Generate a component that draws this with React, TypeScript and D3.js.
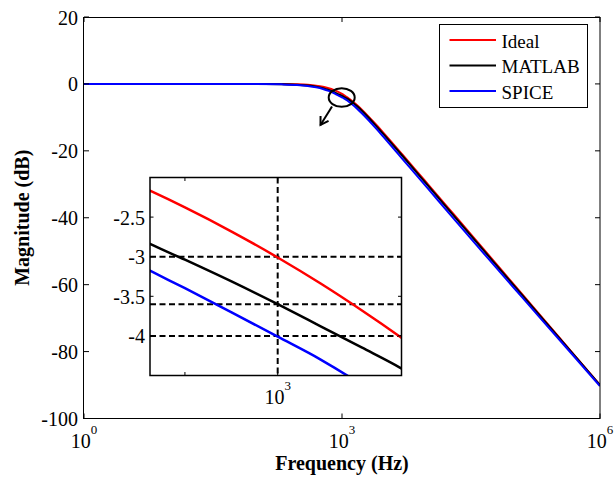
import React from 'react';
import * as d3 from 'd3';

const freqs = [1, 10, 100, 200, 300, 400, 500, 600, 700, 800, 865, 900, 950, 1000, 1050, 1100, 1150, 1200, 1300, 1500, 1700, 2000, 2500, 3000, 4000, 5000, 7000, 1e4, 2e4, 5e4, 1e5, 2e5, 5e5, 1e6];
const ideal = [0, 0, -0.004, -0.035, -0.116, -0.269, -0.512, -0.849, -1.281, -1.796, -2.167, -2.378, -2.689, -3.01, -3.339, -3.676, -4.016, -4.358, -5.047, -6.41, -7.718, -9.542, -12.208, -14.472, -18.129, -21.004, -25.366, -30.004, -39.031, -50.97, -60.0, -69.03, -80.97, -90.0];
const matlab = [0, 0, -0.024, -0.085, -0.216, -0.469, -0.812, -1.249, -1.781, -2.396, -2.837, -3.038, -3.319, -3.6, -3.879, -4.146, -4.406, -4.698, -5.347, -6.71, -8.018, -9.89, -12.6, -14.87, -18.53, -21.4, -25.77, -30.4, -39.43, -51.32, -60.3, -69.23, -81.07, -90.0];
const spice = [0, 0, -0.034, -0.135, -0.316, -0.619, -1.012, -1.499, -2.081, -2.716, -3.177, -3.398, -3.709, -4.01, -4.299, -4.616, -4.956, -5.308, -6.017, -7.41, -8.768, -10.642, -13.358, -15.672, -19.379, -22.304, -26.666, -31.304, -40.331, -52.17, -61.0, -69.83, -81.47, -90.3];

const seriesNames = ['Ideal', 'MATLAB', 'SPICE'];
const seriesColors = ['#ff0000', '#000000', '#0000ff'];
const seriesData = [ideal, matlab, spice];

const yTicks = [20, 0, -20, -40, -60, -80, -100];
const xTicks = [1, 1e3, 1e6];
const xTickExps = ['0', '3', '6'];

const insetYTicks = [-2.5, -3, -3.5, -4];
const insetXTicks = [900, 1000];
const insetXLabels = [1000];
const insetXLabelExps = ['3'];
const insetHLines = [-3, -3.6, -4];
const insetVLines = [1000];

const FONT = "'Liberation Serif', 'Times New Roman', serif";

export default function App() {
  const W = 616, H = 477;
  const L = 84, R = 600, T = 17, B = 418.5;
  const x = d3.scaleLog().domain([1, 1e6]).range([L, R]);
  const y = d3.scaleLinear().domain([-100, 20]).range([B, T]);

  const iL = 150, iR = 401.5, iT = 177.5, iB = 375.5;
  const ix = d3.scaleLog().domain([865, 1151]).range([iL, iR]);
  const iy = d3.scaleLinear().domain([-4.5, -2]).range([iB, iT]);

  const mainLine = d3.line<number>()
    .x((_, i) => x(freqs[i]))
    .y((d) => y(d))
    .curve(d3.curveMonotoneX);
  const insetLine = d3.line<number>()
    .x((_, i) => ix(freqs[i]))
    .y((d) => iy(d))
    .curve(d3.curveMonotoneX);

  // arrow geometry
  const tip = [320.5, 125];
  const start = [332, 106.5];
  const ang = Math.atan2(tip[1] - start[1], tip[0] - start[0]);
  const wl = 9, wa = 0.55;
  const w1 = [tip[0] - wl * Math.cos(ang - wa), tip[1] - wl * Math.sin(ang - wa)];
  const w2 = [tip[0] - wl * Math.cos(ang + wa), tip[1] - wl * Math.sin(ang + wa)];

  const legendRows = [40, 65.5, 91];

  return (
    <svg width={W} height={H} style={{ position: 'absolute', left: 0, top: 0, background: '#fff' }} fontFamily={FONT}>
      <defs>
        <clipPath id="mainClip"><rect x={L} y={T} width={R - L} height={B - T} /></clipPath>
        <clipPath id="insetClip"><rect x={iL} y={iT} width={iR - iL} height={iB - iT} /></clipPath>
      </defs>
      <rect x={0} y={0} width={W} height={H} fill="#fff" />

      {/* main curves */}
      <g clipPath="url(#mainClip)">
        {[0, 1, 2].map((k) => (
          <path key={k} d={mainLine(seriesData[k]) || ''} fill="none" stroke={seriesColors[k]} strokeWidth={2} />
        ))}
      </g>

      {/* main frame and ticks */}
      <rect x={L - 0.5} y={T + 0.5} width={R - L + 0.5} height={B - T - 0.5} fill="none" stroke="#000" strokeWidth={1} />
      {yTicks.map((t) => (
        <g key={'y' + t}>
          <line x1={L} x2={L + 5} y1={y(t)} y2={y(t)} stroke="#000" />
          <line x1={R} x2={R - 5} y1={y(t)} y2={y(t)} stroke="#000" />
          <text x={L - 6} y={y(t) + 7.5} fontSize={20} textAnchor="end">{t}</text>
        </g>
      ))}
      {xTicks.map((t, i) => (
        <g key={'x' + t}>
          <line x1={x(t)} x2={x(t)} y1={B} y2={B - 5} stroke="#000" />
          <line x1={x(t)} x2={x(t)} y1={T} y2={T + 5} stroke="#000" />
          <text x={x(t)} y={B + 29.5} fontSize={20} textAnchor="middle">
            10<tspan fontSize={13} dy={-14}>{xTickExps[i]}</tspan>
          </text>
        </g>
      ))}

      <text x={342} y={470} fontSize={20} fontWeight="bold" textAnchor="middle">Frequency (Hz)</text>
      <text transform={`translate(29,${(T + B) / 2}) rotate(-90)`} fontSize={20} fontWeight="bold" textAnchor="middle">Magnitude (dB)</text>

      {/* ellipse and arrow */}
      <ellipse cx={341.7} cy={97.5} rx={13} ry={9.3} fill="none" stroke="#000" strokeWidth={2} />
      <line x1={start[0]} y1={start[1]} x2={tip[0]} y2={tip[1]} stroke="#000" strokeWidth={2} />
      <polyline points={`${w1[0]},${w1[1]} ${tip[0]},${tip[1]} ${w2[0]},${w2[1]}`} fill="none" stroke="#000" strokeWidth={2} />

      {/* legend */}
      <rect x={439.5} y={24.5} width={148} height={83} fill="#fff" stroke="#000" strokeWidth={1} />
      {seriesNames.map((n, k) => (
        <g key={n}>
          <line x1={449.5} x2={496} y1={legendRows[k]} y2={legendRows[k]} stroke={seriesColors[k]} strokeWidth={2} />
          <text x={501.5} y={legendRows[k] + 7.5} fontSize={19}>{n}</text>
        </g>
      ))}

      {/* inset */}
      <rect x={iL} y={iT} width={iR - iL} height={iB - iT} fill="#fff" />
      <g clipPath="url(#insetClip)">
        {insetHLines.map((v) => (
          <line key={'h' + v} x1={iL} x2={iR} y1={iy(v)} y2={iy(v)} stroke="#000" strokeWidth={2} strokeDasharray="6,3.5" />
        ))}
        {insetVLines.map((v) => (
          <line key={'v' + v} x1={ix(v)} x2={ix(v)} y1={iT} y2={iB} stroke="#000" strokeWidth={2} strokeDasharray="6,3.5" />
        ))}
        {[0, 1, 2].map((k) => (
          <path key={k} d={insetLine(seriesData[k]) || ''} fill="none" stroke={seriesColors[k]} strokeWidth={2.5} />
        ))}
      </g>
      <rect x={iL} y={iT} width={iR - iL} height={iB - iT} fill="none" stroke="#000" strokeWidth={1.5} />
      {insetYTicks.map((t) => (
        <g key={'iy' + t}>
          <line x1={iL} x2={iL + 3.5} y1={iy(t)} y2={iy(t)} stroke="#000" />
          <line x1={iR} x2={iR - 3.5} y1={iy(t)} y2={iy(t)} stroke="#000" />
          <text x={iL - 5} y={iy(t) + 7.5} fontSize={20} textAnchor="end">{t}</text>
        </g>
      ))}
      {insetXTicks.map((t) => (
        <g key={'ix' + t}>
          <line x1={ix(t)} x2={ix(t)} y1={iB} y2={iB - 3.5} stroke="#000" />
          <line x1={ix(t)} x2={ix(t)} y1={iT} y2={iT + 3.5} stroke="#000" />
        </g>
      ))}
      {insetXLabels.map((t, i) => (
        <text key={'ixl' + t} x={ix(t)} y={iB + 28.5} fontSize={20} textAnchor="middle">
          10<tspan fontSize={13} dy={-14}>{insetXLabelExps[i]}</tspan>
        </text>
      ))}
    </svg>
  );
}
